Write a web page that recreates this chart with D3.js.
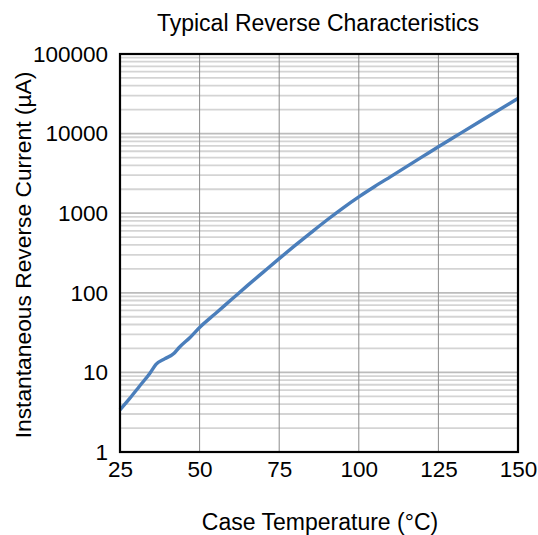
<!DOCTYPE html>
<html><head><meta charset="utf-8">
<script src="https://cdn.jsdelivr.net/npm/d3@7"></script>
<style>body{margin:0;background:#fff}svg{display:block}text{font-family:"Liberation Sans",Arial,sans-serif;fill:#000}</style>
</head><body><svg id="c" width="538" height="535"></svg>
<script>
const temps = [25, 28, 31, 34.4, 36.3, 39, 42, 43.5, 47, 50, 55, 60, 65, 70, 75, 80, 85, 90, 95, 100, 105, 110, 115, 120, 125, 130, 137.5, 150];
const current = [3.39, 4.68, 6.61, 9.77, 12.6, 14.8, 17.4, 20.4, 27.5, 36.7, 55, 82.2, 123, 182, 269, 394, 571, 822, 1161, 1603, 2163, 2884, 3846, 5129, 6839, 9057, 13800, 27730];
const xTicks = [25, 50, 75, 100, 125, 150];
const yTicks = [1, 10, 100, 1000, 10000, 100000];
const title = "Typical Reverse Characteristics";
const xTitle = "Case Temperature (°C)";
const yTitle = "Instantaneous Reverse Current (µA)";

const L = 120, R = 518, T = 54, B = 452;
const FONT = '"Liberation Sans",Arial,sans-serif';
const svg = d3.select("#c");
const x = d3.scaleLinear().domain([25, 150]).range([L, R]);
const y = d3.scaleLog().domain([1, 100000]).range([B, T]);

// minor horizontal gridlines
const minors = [];
for (let d = 1; d < 100000; d *= 10) for (let k = 2; k <= 9; k++) minors.push(d * k);
svg.append("g").selectAll("line").data(minors).join("line")
  .attr("x1", L).attr("x2", R).attr("y1", d => y(d)).attr("y2", d => y(d))
  .attr("stroke", "#d4d4d4").attr("stroke-width", 1.8);
svg.append("g").selectAll("line").data(yTicks.slice(1, -1)).join("line")
  .attr("x1", L).attr("x2", R).attr("y1", d => y(d)).attr("y2", d => y(d))
  .attr("stroke", "#bcbcbc").attr("stroke-width", 1.8);
// vertical gridlines
svg.append("g").selectAll("line").data(xTicks.slice(1, -1)).join("line")
  .attr("x1", d => x(d)).attr("x2", d => x(d)).attr("y1", T).attr("y2", B)
  .attr("stroke", "#8c8c8c").attr("stroke-width", 1);

// curve
svg.append("path").datum(temps.map((t, i) => [t, current[i]]))
  .attr("fill", "none").attr("stroke", "#4a7ebb").attr("stroke-width", 3.4)
  .attr("stroke-linejoin", "round")
  .attr("d", d3.line().x(d => x(d[0])).y(d => y(d[1])).curve(d3.curveMonotoneX));

// frame
svg.append("rect").attr("x", L).attr("y", T).attr("width", R - L).attr("height", B - T)
  .attr("fill", "none").attr("stroke", "#000").attr("stroke-width", 2.2);

// axes
const xAxis = d3.axisBottom(x).tickValues(xTicks).tickSize(0).tickPadding(9).tickFormat(d3.format("d"));
const gx = svg.append("g").attr("transform", `translate(0,${B})`).call(xAxis);
gx.select(".domain").remove();
gx.selectAll("text").attr("font-size", 22.5).attr("dy", "0.72em").style("font-family", FONT).attr("fill", "#000");

const yAxis = d3.axisLeft(y).tickValues(yTicks).tickSize(0).tickPadding(12).tickFormat(d3.format("d"));
const gy = svg.append("g").attr("transform", `translate(${L},0)`).call(yAxis);
gy.select(".domain").remove();
gy.selectAll("text").attr("font-size", 22.5).style("font-family", FONT).attr("fill", "#000");

svg.append("text").attr("x", 318).attr("y", 31).attr("text-anchor", "middle").attr("font-size", 23).text(title);
svg.append("text").attr("x", 320).attr("y", 530).attr("text-anchor", "middle").attr("font-size", 23).text(xTitle);
svg.append("text").attr("transform", "translate(31,255) rotate(-90)").attr("text-anchor", "middle").attr("font-size", 22.8).text(yTitle);
</script></body></html>
